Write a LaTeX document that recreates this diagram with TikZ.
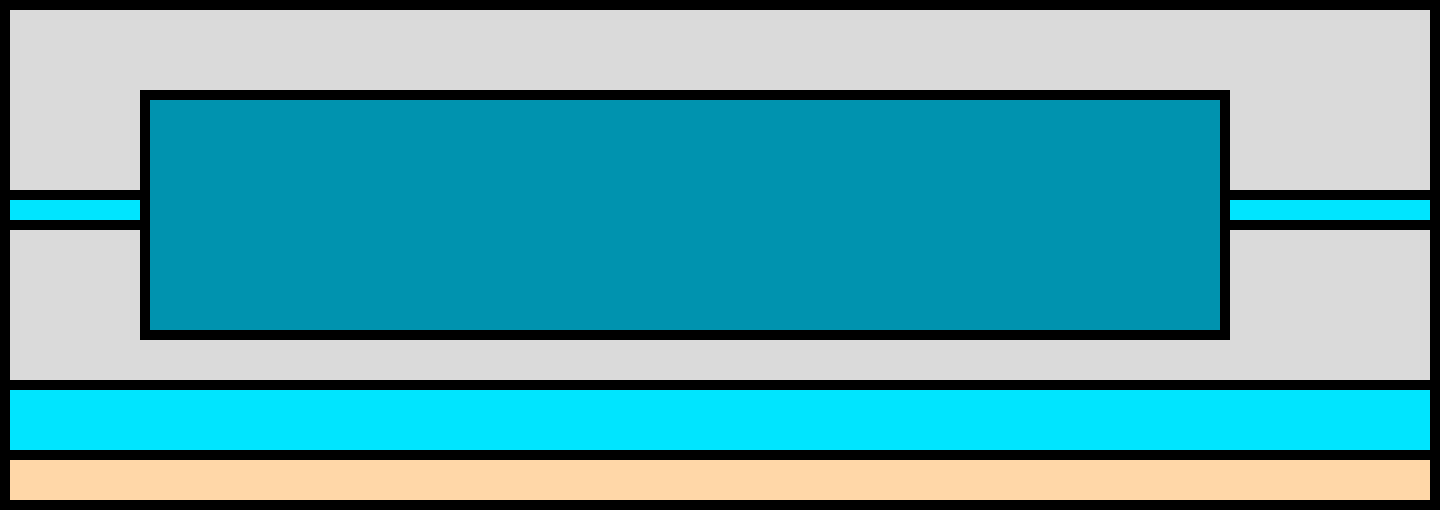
\documentclass[tikz,border=0pt]{standalone}
\definecolor{greyfill}{HTML}{DADADA}
\definecolor{cyanfill}{HTML}{00E5FF}
\definecolor{tealfill}{HTML}{0093AF}
\definecolor{peachfill}{HTML}{FFD7A8}
\begin{document}
\begin{tikzpicture}[x=0.5pt,y=-0.5pt]
\useasboundingbox (0,0) rectangle (1440,510);
\fill[black] (0,0) rectangle (1440,510);
% grey housing
\fill[greyfill] (10,10) rectangle (1430,380);
% thin strip with black borders
\fill[black] (10,190) rectangle (1430,230);
\fill[cyanfill] (10,200) rectangle (1430,220);
% central box
\fill[black] (140,90) rectangle (1230,340);
\fill[tealfill] (150,100) rectangle (1220,330);
% bottom layers
\fill[cyanfill] (10,390) rectangle (1430,450);
\fill[peachfill] (10,460) rectangle (1430,500);
\end{tikzpicture}
\end{document}
